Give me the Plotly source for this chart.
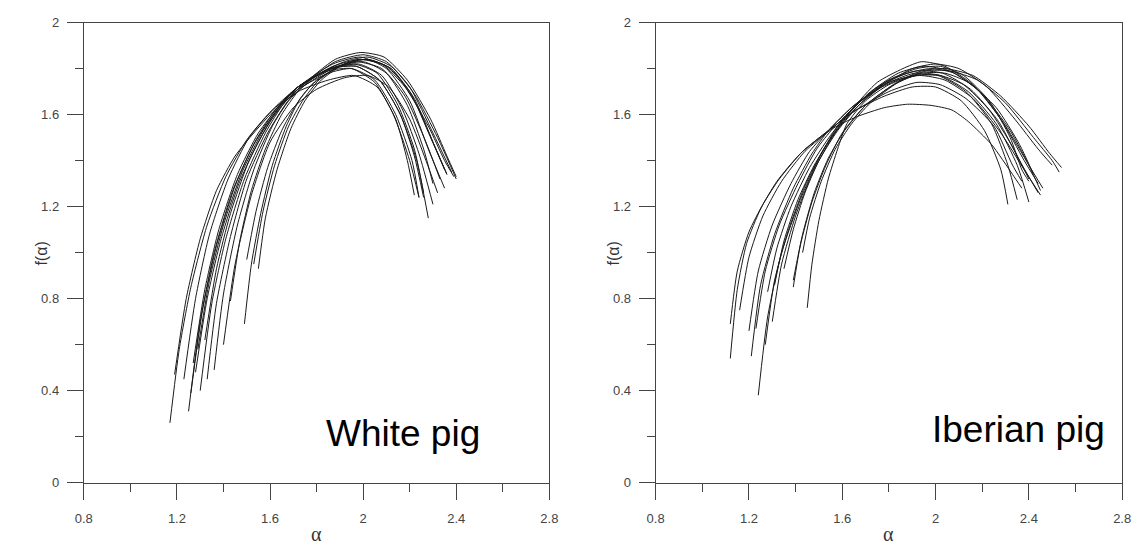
import plotly.graph_objects as go

# Multifractal spectra f(alpha) – one curve per sample, (alpha, f) points
white_curves = [
    [(1.19, 0.47), (1.24, 0.80), (1.30, 1.06), (1.37, 1.27), (1.45, 1.42), (1.53, 1.52), (1.62, 1.62), (1.72, 1.70), (1.85, 1.75), (1.96, 1.77), (2.06, 1.72), (2.14, 1.58), (2.19, 1.40), (2.22, 1.25)],
    [(1.17, 0.26), (1.21, 0.58), (1.26, 0.85), (1.33, 1.12), (1.41, 1.33), (1.50, 1.49), (1.60, 1.61), (1.72, 1.71), (1.85, 1.78), (1.95, 1.80), (2.05, 1.75), (2.14, 1.60), (2.21, 1.40), (2.24, 1.24)],
    [(1.25, 0.31), (1.30, 0.70), (1.36, 1.00), (1.44, 1.27), (1.53, 1.47), (1.63, 1.62), (1.72, 1.72), (1.86, 1.80), (1.97, 1.83), (2.08, 1.80), (2.18, 1.68), (2.27, 1.48), (2.33, 1.32)],
    [(1.26, 0.39), (1.31, 0.75), (1.37, 1.03), (1.45, 1.29), (1.54, 1.49), (1.63, 1.63), (1.72, 1.72), (1.87, 1.82), (1.99, 1.85), (2.10, 1.80), (2.20, 1.66), (2.28, 1.45), (2.35, 1.28)],
    [(1.28, 0.48), (1.33, 0.80), (1.39, 1.06), (1.47, 1.31), (1.56, 1.50), (1.64, 1.63), (1.72, 1.72), (1.86, 1.80), (1.97, 1.81), (2.07, 1.75), (2.16, 1.60), (2.22, 1.42), (2.26, 1.24)],
    [(1.30, 0.40), (1.35, 0.78), (1.41, 1.06), (1.49, 1.32), (1.58, 1.52), (1.66, 1.65), (1.73, 1.72), (1.88, 1.83), (2.00, 1.86), (2.10, 1.83), (2.20, 1.72), (2.30, 1.52), (2.38, 1.35)],
    [(1.33, 0.45), (1.37, 0.78), (1.43, 1.07), (1.50, 1.32), (1.59, 1.52), (1.67, 1.65), (1.73, 1.72), (1.86, 1.80), (1.97, 1.81), (2.07, 1.75), (2.16, 1.60), (2.23, 1.40), (2.28, 1.15)],
    [(1.36, 0.49), (1.40, 0.82), (1.46, 1.12), (1.53, 1.36), (1.61, 1.55), (1.68, 1.66), (1.74, 1.72), (1.87, 1.80), (1.98, 1.82), (2.08, 1.77), (2.17, 1.62), (2.24, 1.43), (2.30, 1.21)],
    [(1.29, 0.58), (1.34, 0.88), (1.40, 1.12), (1.48, 1.35), (1.57, 1.53), (1.65, 1.65), (1.72, 1.72), (1.85, 1.79), (1.95, 1.80), (2.05, 1.74), (2.13, 1.60), (2.20, 1.40), (2.24, 1.24)],
    [(1.23, 0.45), (1.28, 0.80), (1.34, 1.08), (1.42, 1.32), (1.51, 1.50), (1.62, 1.63), (1.72, 1.72), (1.87, 1.81), (1.99, 1.84), (2.10, 1.81), (2.20, 1.70), (2.29, 1.50), (2.36, 1.34)],
    [(1.43, 0.79), (1.47, 1.05), (1.52, 1.27), (1.58, 1.45), (1.65, 1.60), (1.72, 1.70), (1.80, 1.77), (1.92, 1.83), (2.02, 1.85), (2.12, 1.81), (2.22, 1.69), (2.32, 1.50), (2.40, 1.32)],
    [(1.49, 0.69), (1.52, 0.95), (1.56, 1.17), (1.61, 1.38), (1.67, 1.55), (1.73, 1.67), (1.80, 1.75), (1.92, 1.82), (2.02, 1.84), (2.12, 1.80), (2.22, 1.66), (2.30, 1.48), (2.36, 1.34)],
    [(1.50, 0.97), (1.54, 1.18), (1.59, 1.37), (1.65, 1.53), (1.71, 1.64), (1.78, 1.73), (1.88, 1.80), (1.98, 1.84), (2.08, 1.82), (2.18, 1.72), (2.28, 1.55), (2.35, 1.40), (2.39, 1.33)],
    [(1.53, 0.95), (1.57, 1.18), (1.62, 1.38), (1.68, 1.55), (1.74, 1.66), (1.81, 1.75), (1.90, 1.81), (2.00, 1.83), (2.10, 1.78), (2.19, 1.64), (2.26, 1.45), (2.30, 1.30)],
    [(1.55, 0.93), (1.58, 1.15), (1.63, 1.36), (1.69, 1.54), (1.75, 1.66), (1.82, 1.75), (1.92, 1.82), (2.02, 1.84), (2.12, 1.80), (2.22, 1.67), (2.30, 1.48), (2.35, 1.36)],
    [(1.40, 0.60), (1.45, 0.95), (1.52, 1.25), (1.60, 1.48), (1.70, 1.63), (1.80, 1.71), (1.92, 1.76), (2.02, 1.77), (2.11, 1.72), (2.20, 1.58), (2.27, 1.40), (2.32, 1.26)],
    [(1.32, 0.62), (1.37, 0.93), (1.43, 1.17), (1.51, 1.40), (1.60, 1.57), (1.67, 1.66), (1.73, 1.72), (1.88, 1.84), (1.99, 1.87), (2.09, 1.85), (2.19, 1.75), (2.29, 1.58), (2.36, 1.42), (2.40, 1.33)],
    [(1.27, 0.52), (1.32, 0.84), (1.38, 1.10), (1.46, 1.34), (1.55, 1.52), (1.64, 1.64), (1.72, 1.72), (1.86, 1.80), (1.96, 1.82), (2.06, 1.78), (2.15, 1.64), (2.22, 1.45), (2.26, 1.26)],
]

iberian_curves = [
    [(1.12, 0.54), (1.15, 0.84), (1.19, 1.04), (1.25, 1.19), (1.32, 1.31), (1.42, 1.43), (1.54, 1.53), (1.66, 1.62), (1.78, 1.68), (1.90, 1.72), (2.00, 1.72), (2.11, 1.66), (2.21, 1.53), (2.28, 1.36), (2.31, 1.21)],
    [(1.12, 0.69), (1.15, 0.92), (1.20, 1.09), (1.26, 1.21), (1.33, 1.32), (1.43, 1.44), (1.54, 1.53), (1.66, 1.62), (1.80, 1.70), (1.92, 1.74), (2.02, 1.73), (2.13, 1.67), (2.25, 1.55), (2.33, 1.38), (2.37, 1.31)],
    [(1.20, 0.66), (1.24, 0.92), (1.30, 1.12), (1.38, 1.30), (1.46, 1.44), (1.54, 1.53), (1.64, 1.63), (1.77, 1.72), (1.90, 1.77), (2.01, 1.77), (2.13, 1.70), (2.24, 1.56), (2.31, 1.38), (2.35, 1.23)],
    [(1.21, 0.55), (1.25, 0.86), (1.31, 1.08), (1.39, 1.28), (1.47, 1.43), (1.54, 1.53), (1.65, 1.64), (1.78, 1.73), (1.91, 1.78), (2.02, 1.77), (2.14, 1.70), (2.26, 1.56), (2.35, 1.38), (2.40, 1.22)],
    [(1.24, 0.38), (1.28, 0.72), (1.34, 1.00), (1.42, 1.23), (1.50, 1.41), (1.58, 1.55), (1.68, 1.66), (1.80, 1.75), (1.92, 1.79), (2.03, 1.78), (2.15, 1.71), (2.27, 1.57), (2.36, 1.40), (2.44, 1.26)],
    [(1.23, 0.67), (1.27, 0.92), (1.33, 1.12), (1.41, 1.30), (1.49, 1.45), (1.56, 1.54), (1.67, 1.65), (1.80, 1.74), (1.93, 1.77), (2.04, 1.75), (2.16, 1.67), (2.28, 1.52), (2.38, 1.36), (2.45, 1.25)],
    [(1.27, 0.60), (1.31, 0.88), (1.37, 1.10), (1.44, 1.29), (1.52, 1.45), (1.60, 1.57), (1.71, 1.69), (1.84, 1.78), (1.95, 1.81), (2.06, 1.79), (2.18, 1.71), (2.30, 1.55), (2.40, 1.38), (2.46, 1.28)],
    [(1.28, 0.83), (1.32, 1.02), (1.38, 1.20), (1.46, 1.37), (1.55, 1.51), (1.64, 1.62), (1.75, 1.72), (1.88, 1.78), (1.98, 1.80), (2.08, 1.78), (2.20, 1.69), (2.32, 1.53), (2.40, 1.38), (2.45, 1.27)],
    [(1.31, 0.86), (1.35, 1.05), (1.41, 1.23), (1.48, 1.38), (1.56, 1.51), (1.66, 1.63), (1.78, 1.73), (1.90, 1.80), (2.00, 1.82), (2.10, 1.80), (2.22, 1.72), (2.34, 1.58), (2.44, 1.45), (2.50, 1.38)],
    [(1.35, 0.93), (1.39, 1.10), (1.44, 1.26), (1.50, 1.40), (1.58, 1.53), (1.68, 1.65), (1.80, 1.75), (1.92, 1.80), (2.02, 1.81), (2.12, 1.77), (2.23, 1.66), (2.32, 1.50), (2.37, 1.36), (2.40, 1.31)],
    [(1.39, 0.85), (1.42, 1.03), (1.47, 1.22), (1.53, 1.38), (1.60, 1.52), (1.70, 1.64), (1.82, 1.73), (1.94, 1.78), (2.04, 1.78), (2.14, 1.74), (2.26, 1.63), (2.36, 1.47), (2.42, 1.34)],
    [(1.39, 0.88), (1.43, 1.08), (1.48, 1.26), (1.54, 1.41), (1.61, 1.53), (1.70, 1.64), (1.82, 1.73), (1.94, 1.79), (2.04, 1.80), (2.16, 1.77), (2.28, 1.68), (2.40, 1.55), (2.49, 1.43), (2.54, 1.37)],
    [(1.43, 1.00), (1.46, 1.15), (1.51, 1.31), (1.57, 1.45), (1.64, 1.56), (1.72, 1.65), (1.84, 1.74), (1.96, 1.79), (2.06, 1.79), (2.18, 1.75), (2.30, 1.65), (2.42, 1.50), (2.50, 1.40), (2.53, 1.35)],
    [(1.45, 0.76), (1.47, 0.95), (1.50, 1.14), (1.54, 1.32), (1.58, 1.45), (1.62, 1.56), (1.70, 1.66), (1.80, 1.73), (1.92, 1.77), (2.02, 1.77), (2.12, 1.73), (2.23, 1.62), (2.33, 1.46), (2.40, 1.32)],
    [(1.30, 0.70), (1.34, 0.95), (1.40, 1.16), (1.47, 1.34), (1.55, 1.49), (1.64, 1.62), (1.75, 1.74), (1.86, 1.80), (1.94, 1.83), (2.04, 1.81), (2.16, 1.73), (2.28, 1.58), (2.38, 1.40), (2.44, 1.30)],
    [(1.16, 0.75), (1.20, 0.98), (1.26, 1.16), (1.34, 1.31), (1.44, 1.44), (1.56, 1.54), (1.66, 1.59), (1.78, 1.63), (1.88, 1.645), (1.98, 1.64), (2.07, 1.62), (2.14, 1.57), (2.24, 1.47), (2.33, 1.34), (2.37, 1.28)],
]

x_range = [0.8, 2.8]
y_range = [0, 2]
x_major = [0.8, 1.2, 1.6, 2.0, 2.4, 2.8]
x_major_text = ["0.8", "1.2", "1.6", "2", "2.4", "2.8"]
y_major = [0, 0.4, 0.8, 1.2, 1.6, 2.0]
y_major_text = ["0", "0.4", "0.8", "1.2", "1.6", "2"]
panel_labels = ["White pig", "Iberian pig"]
x_title = "α"
y_title = "f(α)"

W, H = 1142, 551
fig = go.Figure()

for curves, xa, ya in [(white_curves, "x", "y"), (iberian_curves, "x2", "y2")]:
    for pts in curves:
        fig.add_trace(go.Scatter(
            x=[p[0] for p in pts], y=[p[1] for p in pts],
            mode="lines", xaxis=xa, yaxis=ya, showlegend=False,
            line=dict(color="#1a1a1a", width=1, shape="spline", smoothing=0.6),
            hoverinfo="skip",
        ))

axis_color = "#444444"
tick_font = dict(family="Liberation Sans, Arial, sans-serif", size=13, color="#444444")


def xaxis_style(domain):
    return dict(
        domain=domain, range=x_range, showgrid=False, zeroline=False,
        showline=True, linecolor=axis_color, linewidth=1, mirror=True,
        ticks="outside", ticklen=16, tickwidth=1, tickcolor=axis_color,
        tickvals=x_major, ticktext=x_major_text, tickfont=tick_font,
        ticklabelstandoff=8,
        minor=dict(dtick=0.2, tick0=0.8, ticks="outside", ticklen=8, tickwidth=1,
                   tickcolor=axis_color, showgrid=False),
        fixedrange=True,
    )


def yaxis_style(domain, anchor):
    return dict(
        domain=domain, range=y_range, anchor=anchor, showgrid=False, zeroline=False,
        showline=True, linecolor=axis_color, linewidth=1, mirror=True,
        ticks="outside", ticklen=16, tickwidth=1, tickcolor=axis_color,
        tickvals=y_major, ticktext=y_major_text, tickfont=tick_font,
        ticklabelstandoff=5,
        minor=dict(dtick=0.2, tick0=0, ticks="outside", ticklen=8, tickwidth=1,
                   tickcolor=axis_color, showgrid=False),
        fixedrange=True,
    )


left_dom = [76 / W, 549 / W]
right_dom = [657 / W, 1131 / W]
ydom = [1 - 489 / H, 1 - 16 / H]
fig.update_layout(
    width=W, height=H,
    margin=dict(l=0, r=0, t=0, b=0),
    paper_bgcolor="white", plot_bgcolor="white",
    xaxis=xaxis_style(left_dom),
    yaxis=yaxis_style(ydom, "x"),
    xaxis2=dict(xaxis_style(right_dom), anchor="y2"),
    yaxis2=yaxis_style(ydom, "x2"),
)

# axis titles
title_font_x = dict(family="Liberation Serif, Times New Roman, serif", size=20, color="#333333")
title_font_y = dict(family="Liberation Sans, Arial, sans-serif", size=16, color="#333333")
for dom, ylab_px in [(left_dom, 33), (right_dom, 614)]:
    fig.add_annotation(x=(dom[0] + dom[1]) / 2, y=1 - 542 / H, xref="paper", yref="paper",
                       text=x_title, showarrow=False, font=title_font_x,
                       xanchor="center", yanchor="middle")
    fig.add_annotation(x=ylab_px / W, y=1 - 253 / H, xref="paper", yref="paper",
                       text=y_title, showarrow=False, font=title_font_y, textangle=-90,
                       xanchor="center", yanchor="middle")

label_font = dict(family="Liberation Sans, Arial, sans-serif", size=37, color="#000000")
fig.add_annotation(x=2.17, y=0.215, xref="x", yref="y", text=panel_labels[0],
                   showarrow=False, font=label_font, xanchor="center", yanchor="middle")
fig.add_annotation(x=2.355, y=0.23, xref="x2", yref="y2", text=panel_labels[1],
                   showarrow=False, font=label_font, xanchor="center", yanchor="middle")

fig.write_html("out.html")
